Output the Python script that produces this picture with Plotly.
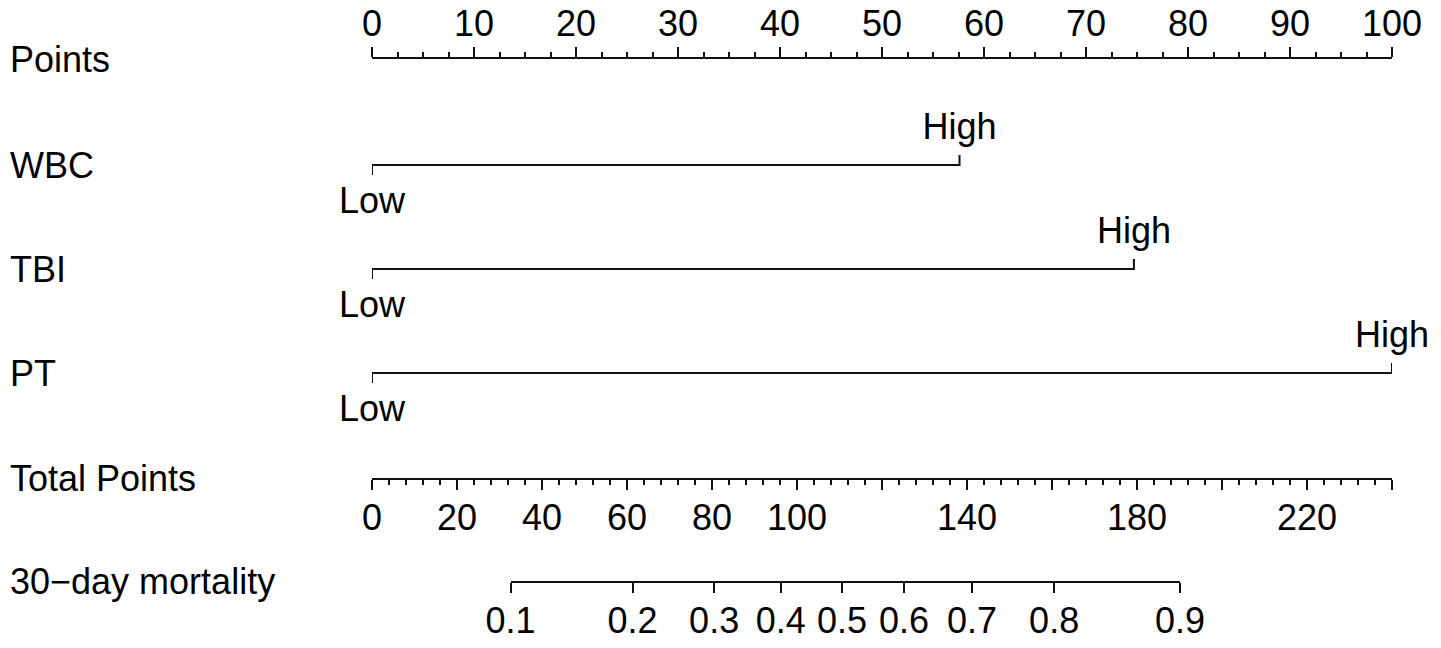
import plotly.graph_objects as go

# ---- data ----
points_ticks = [0, 10, 20, 30, 40, 50, 60, 70, 80, 90, 100]

variables = ["WBC", "TBI", "PT"]
low_points = [0.0, 0.0, 0.0]
high_points = [57.6, 74.7, 100.0]

total_ticks = [0, 20, 40, 60, 80, 100, 120, 140, 160, 180, 200, 220, 240]
total_labels = ["0", "20", "40", "60", "80", "100", "", "140", "", "180", "", "220", ""]

mort_labels = ["0.1", "0.2", "0.3", "0.4", "0.5", "0.6", "0.7", "0.8", "0.9"]
mort_total = [32.6, 61.3, 80.5, 96.2, 110.6, 125.2, 141.2, 160.5, 190.1]

# ---- layout (pixels of the target image) ----
W, H = 1441, 648
X0, X1 = 372, 1392          # where the points scale starts / ends
ROW_Y = {"Points": 59, "WBC": 165, "TBI": 269, "PT": 373,
         "Total Points": 478, "30\u2212day mortality": 581}
LABEL_X = 8
FONT = "Liberation Sans, Arial, Helvetica, sans-serif"
FS = 36
INK = "#111111"


def tp_px(t):
    return X0 + t / total_ticks[-1] * (X1 - X0)


dom = [X0 / W, X1 / W]
fig = go.Figure()

# variable rows, drawn on the hidden main axes (points units x pixel rows)
for name, lo, hi in zip(variables, low_points, high_points):
    y = ROW_Y[name]
    fig.add_trace(go.Scatter(x=[lo, lo, hi, hi], y=[y + 10, y, y, y - 10], mode="lines",
                             line=dict(color=INK, width=2), hoverinfo="skip", showlegend=False))
    fig.add_trace(go.Scatter(x=[hi], y=[y - 35], mode="text", text=["High"], cliponaxis=False,
                             textfont=dict(size=FS, color="black", family=FONT),
                             hoverinfo="skip", showlegend=False))
    fig.add_trace(go.Scatter(x=[lo], y=[y + 39], mode="text", text=["Low"], cliponaxis=False,
                             textfont=dict(size=FS, color="black", family=FONT),
                             hoverinfo="skip", showlegend=False))

# invisible anchors so the scale axes get drawn
for k, rng in [(2, [0, 100]), (3, [0, total_ticks[-1]]), (4, [mort_total[0], mort_total[-1]])]:
    fig.add_trace(go.Scatter(x=rng, y=[0, 0], mode="lines", line=dict(width=0),
                             xaxis=f"x{k}", yaxis=f"y{k}", hoverinfo="skip", showlegend=False))

axis_common = dict(showline=True, linecolor=INK, linewidth=2, ticks="outside", tickwidth=2,
                   tickcolor=INK, ticklen=10, showgrid=False, zeroline=False, fixedrange=True,
                   automargin=False, ticklabelstandoff=-3,
                   tickfont=dict(size=FS, color="black", family=FONT), tickmode="array")

hidden = dict(visible=False, fixedrange=True, automargin=False)
fig.update_layout(
    template="none",
    width=W, height=H, margin=dict(l=0, r=0, t=0, b=0, autoexpand=False),
    paper_bgcolor="white", plot_bgcolor="rgba(0,0,0,0)",
    xaxis=dict(domain=dom, range=[0, 100], **hidden),
    yaxis=dict(domain=[0, 1], range=[H, 0], **hidden),
    # Points scale
    xaxis2=dict(domain=dom, range=[0, 100], anchor="y2", side="top",
                tickvals=points_ticks, ticktext=[str(v) for v in points_ticks],
                minor=dict(dtick=2.5, tick0=0, ticklen=5, tickwidth=2, tickcolor=INK, ticks="outside"),
                **axis_common),
    yaxis2=dict(domain=[1 - ROW_Y["Points"] / H - 0.01, 1 - ROW_Y["Points"] / H], **hidden),
    # Total points scale
    xaxis3=dict(domain=dom, range=[0, total_ticks[-1]], anchor="y3", side="bottom",
                tickvals=total_ticks, ticktext=total_labels,
                minor=dict(dtick=4, tick0=0, ticklen=5, tickwidth=2, tickcolor=INK, ticks="outside"),
                **axis_common),
    yaxis3=dict(domain=[1 - ROW_Y["Total Points"] / H, 1 - ROW_Y["Total Points"] / H + 0.01], **hidden),
    # 30-day mortality scale
    xaxis4=dict(domain=[tp_px(mort_total[0]) / W, tp_px(mort_total[-1]) / W],
                range=[mort_total[0], mort_total[-1]], anchor="y4", side="bottom",
                tickvals=mort_total, ticktext=mort_labels, **axis_common),
    yaxis4=dict(domain=[1 - ROW_Y["30\u2212day mortality"] / H, 1 - ROW_Y["30\u2212day mortality"] / H + 0.01], **hidden),
)

# row titles on the left
for label, y in ROW_Y.items():
    fig.add_annotation(x=LABEL_X / W, xref="paper", xanchor="left", y=y, yref="y", yanchor="middle",
                       text=label, showarrow=False,
                       font=dict(size=FS, color="black", family=FONT))

# drop the default 8px body margin so the figure fills the window exactly
fig.write_html("out.html", config={"displayModeBar": False},
               post_script="document.body.style.margin='0px';")
